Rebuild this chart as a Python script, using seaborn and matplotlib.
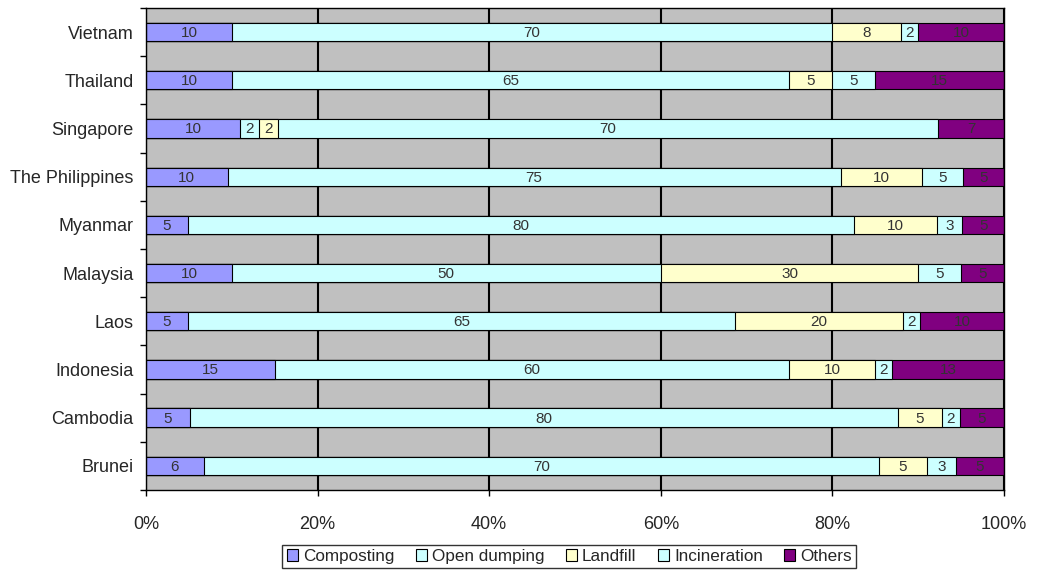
import numpy as np
import pandas as pd
import matplotlib.pyplot as plt
from matplotlib.patches import Patch
import seaborn as sns

# Data (raw values shown on the bars; bars are drawn as 100% stacked)
countries = ['Vietnam', 'Thailand', 'Singapore', 'The Philippines', 'Myanmar',
             'Malaysia', 'Laos', 'Indonesia', 'Cambodia', 'Brunei']
composting = [10, 10, 10, 10, 5, 10, 5, 15, 5, 6]
open_dumping = [70, 65, 2, 75, 80, 50, 65, 60, 80, 70]
landfill = [8, 5, 2, 10, 10, 30, 20, 10, 5, 5]
incineration = [2, 5, 70, 5, 3, 5, 2, 2, 2, 3]
others = [10, 15, 7, 5, 5, 5, 10, 13, 5, 5]

series_names = ['Composting', 'Open dumping', 'Landfill', 'Incineration', 'Others']
colors = {'Composting': '#9999FF', 'Open dumping': '#CCFFFF', 'Landfill': '#FFFFCC',
          'Incineration': '#CCFFFF', 'Others': '#800080'}

df = pd.DataFrame({'Composting': composting, 'Open dumping': open_dumping,
                   'Landfill': landfill, 'Incineration': incineration,
                   'Others': others}, index=countries)
shares = df.div(df.sum(axis=1), axis=0) * 100
cum = shares.cumsum(axis=1)

sns.set_style('white')
plt.rcParams['font.family'] = ['Liberation Sans', 'DejaVu Sans']

fig, ax = plt.subplots(figsize=(10.39, 5.71), dpi=100)
fig.subplots_adjust(left=0.1405, right=0.9663, bottom=0.142, top=0.986)
ax.set_facecolor('#C0C0C0')

# draw cumulative bars from back to front
for name in reversed(series_names):
    sns.barplot(x=cum[name].values, y=countries, order=countries, orient='h',
                color=colors[name], saturation=1, width=0.38,
                edgecolor='black', linewidth=0.8, ax=ax)

# value labels at segment centres
for i, c in enumerate(countries):
    for name in series_names:
        mid = cum.loc[c, name] - shares.loc[c, name] / 2
        ax.text(mid, i + 0.02, str(df.loc[c, name]), ha='center', va='center',
                fontsize=11, color='#333333')

ax.set_xlim(0, 100)
ax.set_ylim(len(countries) - 0.5, -0.5)
ax.set_xticks(np.arange(0, 101, 20))
ax.set_xticklabels([f'{v}%' for v in range(0, 101, 20)], fontsize=13)
ax.set_yticks(np.arange(len(countries)))
ax.set_yticklabels(countries, fontsize=13)
ax.set_yticks(np.arange(-0.5, len(countries), 1), minor=True)
ax.tick_params(axis='y', which='major', length=0, pad=9)
ax.tick_params(axis='y', which='minor', length=4, width=1, color='black', direction='out', left=True)
ax.tick_params(axis='x', length=4, width=1, color='black', direction='out', bottom=True, pad=15)
ax.set_xlabel('')
ax.set_ylabel('')

ax.xaxis.grid(True, color='black', linewidth=1.5)
ax.yaxis.grid(False)
ax.set_axisbelow(True)
for s in ax.spines.values():
    s.set_color('black')
    s.set_linewidth(1)

handles = [Patch(facecolor=colors[n], edgecolor='black', linewidth=0.8, label=n) for n in series_names]
leg = fig.legend(handles=handles, ncol=5, loc='lower center', bbox_to_anchor=(0.548, 0.005),
                 borderaxespad=0, frameon=True, fancybox=False, edgecolor='black', fontsize=12.3,
                 handlelength=0.65, handleheight=0.65, handletextpad=0.3,
                 columnspacing=1.25, borderpad=0.25)
leg.get_frame().set_linewidth(1)

fig.savefig('out.png', dpi=100)
